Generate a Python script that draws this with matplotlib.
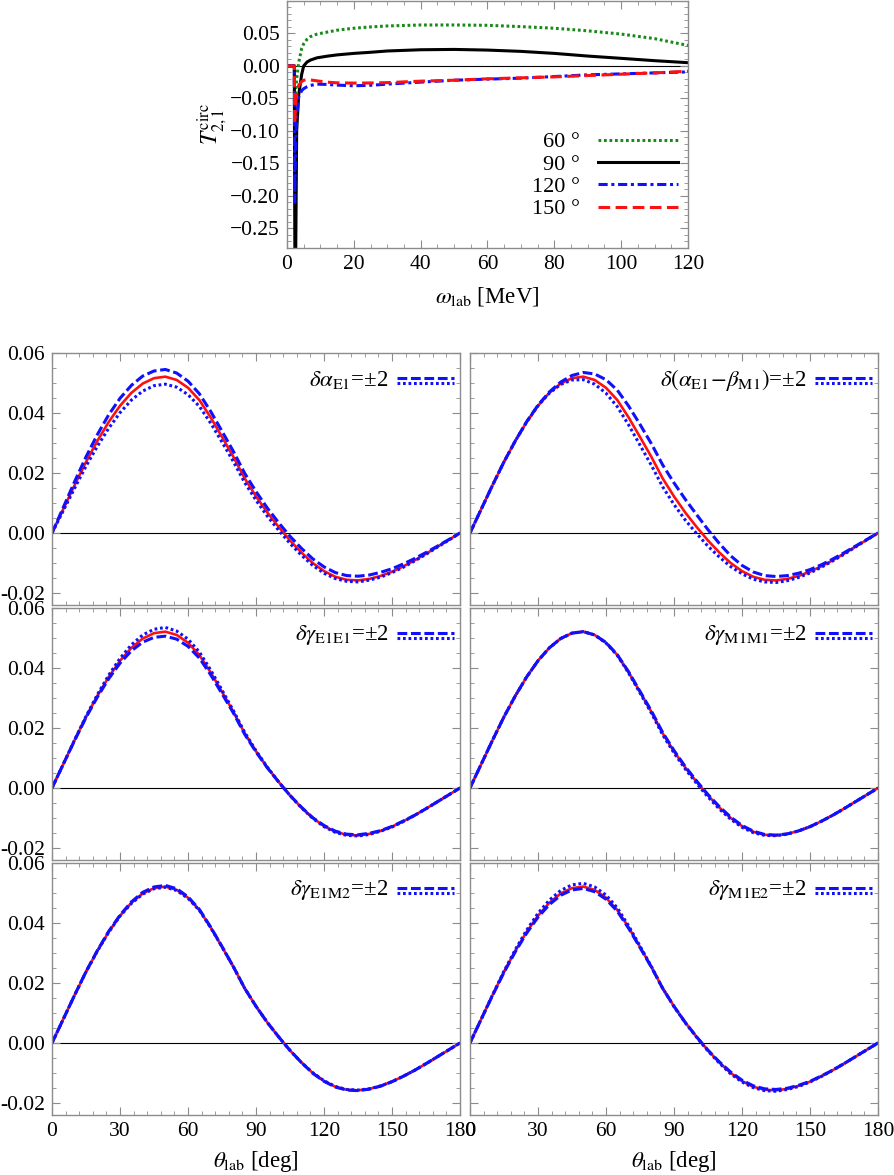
import matplotlib
matplotlib.use("Agg")
import matplotlib.pyplot as plt
from matplotlib.lines import Line2D
from matplotlib.ticker import MultipleLocator, FuncFormatter

plt.rcParams["font.family"] = ["Liberation Serif", "DejaVu Serif"]
plt.rcParams["mathtext.fontset"] = "stix"
plt.rcParams["font.size"] = 15

# ---- top panel: T_{2,1}^circ vs photon energy ----
omega = [0, 2.2, 2.3, 2.45, 2.6, 2.9, 3.5, 4.4, 5, 6, 7, 9, 12, 15, 20, 25,
         30, 40, 50, 60, 70, 80, 90, 100, 110, 120]
t60 = [0, 0, -0.03, -0.05, -0.04, -0.02, 0.005, 0.027, 0.034, 0.041, 0.045,
       0.049, 0.052, 0.055, 0.058, 0.060, 0.0615, 0.063, 0.063, 0.0625,
       0.0605, 0.058, 0.054, 0.049, 0.042, 0.0315]
t90 = [0, 0, -0.2, -0.4, -0.3, -0.10, -0.045, -0.013, 0.0, 0.006, 0.009,
       0.0125, 0.015, 0.017, 0.0193, 0.021, 0.023, 0.0249, 0.0254, 0.0244,
       0.0224, 0.0193, 0.0152, 0.0117, 0.0081, 0.005]
t120 = [0, 0, -0.21, -0.16, -0.12, -0.08, -0.048, -0.038, -0.035, -0.032,
        -0.030, -0.028, -0.0285, -0.0295, -0.0305, -0.0298, -0.028, -0.0249,
        -0.022, -0.0203, -0.0188, -0.0163, -0.0137, -0.0122, -0.0107, -0.0092]
t150 = [0, 0, -0.09, -0.07, -0.06, -0.045, -0.03, -0.024, -0.022, -0.021,
        -0.0215, -0.023, -0.025, -0.026, -0.0264, -0.0262, -0.0257, -0.0234,
        -0.022, -0.0198, -0.0183, -0.0168, -0.0148, -0.0127, -0.0107, -0.0081]
angle_labels = ["60 °", "90 °", "120 °", "150 °"]

# ---- lower panels: T_{2,1}^circ vs angle at fixed energy ----
theta = list(range(0, 181, 5))
base = [0, 0.0080, 0.0160, 0.0237, 0.0307, 0.0370, 0.0424, 0.0467, 0.0498,
        0.0516, 0.0521, 0.0510, 0.0484, 0.0443, 0.0385, 0.0320, 0.0254,
        0.0182, 0.0122, 0.0068, 0.0020, -0.0025, -0.0065, -0.0100, -0.0127,
        -0.0146, -0.0156, -0.0158, -0.0153, -0.0143, -0.0129, -0.0111,
        -0.0091, -0.0069, -0.0046, -0.0023, 0]

# shifts of the +2 (dashed) and -2 (dotted) curves relative to base
alpha_up = [0, 0.0006, 0.0012, 0.0017, 0.0021, 0.0024, 0.0025, 0.0025, 0.0025,
            0.0024, 0.0024, 0.0023, 0.0022, 0.0021, 0.0020, 0.0019, 0.0018,
            0.0017, 0.0016, 0.0015, 0.0014, 0.0014, 0.0014, 0.0014, 0.0014,
            0.0014, 0.0014, 0.0014, 0.0013, 0.0012, 0.0010, 0.0008, 0.0006,
            0.0004, 0.0002, 0.0001, 0]
alpha_dn = [0, -0.0005, -0.0010, -0.0014, -0.0018, -0.0021, -0.0023, -0.0024,
            -0.0025, -0.0025, -0.0025, -0.0024, -0.0023, -0.0021, -0.0019,
            -0.0017, -0.0016, -0.0014, -0.0013, -0.0012, -0.0011, -0.0010,
            -0.0009, -0.0008, -0.0007, -0.0006, -0.0005, -0.0005, -0.0004,
            -0.0004, -0.0003, -0.0003, -0.0002, -0.0002, -0.0001, -0.0001, 0]
amb_up = [0, 0, 0, 0, 0, 0.0001, 0.0002, 0.0003, 0.0005, 0.0009, 0.0014,
          0.0020, 0.0027, 0.0033, 0.0038, 0.0042, 0.0044, 0.0045, 0.0045,
          0.0044, 0.0041, 0.0036, 0.0030, 0.0024, 0.0019, 0.0016, 0.0014,
          0.0013, 0.0011, 0.0009, 0.0007, 0.0005, 0.0004, 0.0003, 0.0002,
          0.0001, 0]
amb_dn = [0, 0, 0, 0, 0, 0, 0, -0.0001, -0.0003, -0.0006, -0.0010, -0.0014,
          -0.0018, -0.0022, -0.0025, -0.0027, -0.0028, -0.0028, -0.0027,
          -0.0025, -0.0022, -0.0019, -0.0015, -0.0012, -0.0009, -0.0008,
          -0.0007, -0.0007, -0.0006, -0.0005, -0.0004, -0.0003, -0.0002,
          -0.0002, -0.0001, 0, 0]
e1e1_up = [0, 0, -0.0001, -0.0002, -0.0004, -0.0006, -0.0008, -0.0010,
           -0.0012, -0.0014, -0.0015, -0.0014, -0.0012, -0.0010, -0.0008,
           -0.0006, -0.0004, -0.0003, -0.0002, -0.0001, 0, 0, 0.0001, 0.0001,
           0.0002, 0.0002, 0.0002, 0.0002, 0.0002, 0.0001, 0.0001, 0.0001,
           0, 0, 0, 0, 0]
e1e1_dn = [0, 0, 0.0001, 0.0002, 0.0004, 0.0006, 0.0008, 0.0010, 0.0012,
           0.0013, 0.0014, 0.0013, 0.0012, 0.0010, 0.0008, 0.0006, 0.0004,
           0.0003, 0.0002, 0.0001, 0, 0, -0.0001, -0.0001, -0.0002, -0.0002,
           -0.0002, -0.0002, -0.0002, -0.0001, -0.0001, -0.0001, 0, 0, 0, 0, 0]
m1m1_up = [0, 0, 0, 0, 0, 0, 0, 0, 0, 0, 0, 0, 0.0001, 0.0001, 0.0002,
           0.0002, 0.0003, 0.0003, 0.0003, 0.0003, 0.0003, 0.0003, 0.0003,
           0.0003, 0.0002, 0.0002, 0.0001, 0.0001, 0, 0, 0, 0, 0, 0, 0, 0, 0]
m1m1_dn = [0, 0, 0, 0, 0, 0, 0, 0, 0, 0, 0, 0, -0.0001, -0.0001, -0.0002,
           -0.0003, -0.0004, -0.0005, -0.0005, -0.0005, -0.0005, -0.0005,
           -0.0005, -0.0004, -0.0004, -0.0003, -0.0002, -0.0001, -0.0001, 0,
           0, 0, 0, 0, 0, 0, 0]
e1m2_up = [0, 0, 0, 0.0001, 0.0001, 0.0002, 0.0002, 0.0003, 0.0004, 0.0004,
           0.0004, 0.0004, 0.0003, 0.0002, 0.0001, 0.0001, 0, 0, 0, 0, 0, 0,
           0, -0.0001, -0.0001, -0.0001, -0.0001, -0.0001, -0.0001, -0.0001,
           0, 0, 0, 0, 0, 0, 0]
e1m2_dn = [0, 0, 0, 0, -0.0001, -0.0001, -0.0001, -0.0002, -0.0002, -0.0002,
           -0.0002, -0.0002, -0.0002, -0.0001, -0.0001, 0, 0, 0, 0, 0, 0, 0,
           0, 0.0001, 0.0001, 0.0001, 0.0001, 0.0001, 0, 0, 0, 0, 0, 0, 0, 0, 0]
m1e2_up = [0, 0, -0.0001, -0.0002, -0.0003, -0.0004, -0.0005, -0.0006,
           -0.0006, -0.0006, -0.0006, -0.0006, -0.0005, -0.0004, -0.0003,
           -0.0002, -0.0001, 0, 0, 0, 0, 0.0001, 0.0002, 0.0003, 0.0003,
           0.0003, 0.0003, 0.0003, 0.0002, 0.0002, 0.0001, 0.0001, 0, 0, 0, 0, 0]
m1e2_dn = [0, 0, 0.0001, 0.0002, 0.0004, 0.0006, 0.0008, 0.0009, 0.0010,
           0.0011, 0.0011, 0.0010, 0.0009, 0.0007, 0.0005, 0.0003, 0.0001, 0,
           -0.0001, -0.0001, -0.0001, -0.0002, -0.0002, -0.0003, -0.0003,
           -0.0003, -0.0003, -0.0003, -0.0002, -0.0002, -0.0001, -0.0001, 0,
           0, 0, 0, 0]

panel_labels = [
    r"$\delta\alpha_{\rm E1}$=±2",
    r"$\delta(\alpha_{\rm E1}\!-\!\beta_{\rm M1})$=±2",
    r"$\delta\gamma_{\rm E1E1}$=±2",
    r"$\delta\gamma_{\rm M1M1}$=±2",
    r"$\delta\gamma_{\rm E1M2}$=±2",
    r"$\delta\gamma_{\rm M1E2}$=±2",
]
panel_shifts = [(alpha_up, alpha_dn), (amb_up, amb_dn), (e1e1_up, e1e1_dn),
                (m1m1_up, m1m1_dn), (e1m2_up, e1m2_dn), (m1e2_up, m1e2_dn)]

FRAME = "#8c8c8c"
BLUE = "#1010ff"
RED = "#ff1010"
DASH = (0, (3.2, 1.2))
DOT = (0, (0.9, 0.9))


def style_frame(ax):
    for sp in ax.spines.values():
        sp.set_color(FRAME)
        sp.set_linewidth(1.0)
    ax.tick_params(which="both", direction="in", top=True, right=True,
                   color=FRAME, labelsize=15.5, pad=5)
    ax.tick_params(which="major", length=6, width=0.8)
    ax.tick_params(which="minor", length=3, width=0.6)


def add_key(ax, label):
    ax.text(0.825, 0.893, label, transform=ax.transAxes, ha="right",
            va="center", fontsize=16.5)
    for y, ls in [(0.902, DASH), (0.880, DOT)]:
        ax.add_line(Line2D([0.846, 0.985], [y, y], transform=ax.transAxes,
                           color=BLUE, lw=2.2, linestyle=ls))


fig = plt.figure(figsize=(8.94, 11.75), dpi=100)

# top panel
ax0 = fig.add_axes([0.321, 0.789, 0.4486, 0.2102])
ax0.axhline(0, color="black", lw=0.8, zorder=1)
ax0.plot(omega, t60, color="#188a18", lw=2.2, linestyle=(0, (0.9, 0.9)),
         label=angle_labels[0])
ax0.plot(omega, t90, color="black", lw=2.2, label=angle_labels[1])
ax0.plot(omega, t120, color=BLUE, lw=2.2, linestyle=(0, (3, 1.2, 1, 1.2)),
         label=angle_labels[2])
ax0.plot(omega, t150, color=RED, lw=2.2, linestyle=(0, (3.8, 1.8)),
         label=angle_labels[3])
ax0.set_xlim(0, 120)
ax0.set_ylim(-0.28, 0.10)
ax0.set_yticks([-0.25, -0.20, -0.15, -0.10, -0.05, 0.0, 0.05])
ax0.xaxis.set_major_locator(MultipleLocator(20))
ax0.xaxis.set_minor_locator(MultipleLocator(5))
ax0.yaxis.set_minor_locator(MultipleLocator(0.01))
ax0.yaxis.set_major_formatter(
    FuncFormatter(lambda v, p: f"{v:.2f}".replace("-", "\u2212")))
style_frame(ax0)
ax0.set_xlabel(r"$\omega_{\rm lab}$ [MeV]", fontsize=16.5, labelpad=8)
ax0.set_ylabel(r"$T_{2,1}^{\rm circ}$", fontsize=17, labelpad=0)
ax0.legend(loc="lower right", bbox_to_anchor=(1.025, 0.035), frameon=False,
           markerfirst=False, handlelength=3.6, labelspacing=0.08,
           fontsize=16, handletextpad=0.8)

# 3x2 grid
lefts = [0.0582, 0.5257]
bottoms = [0.4851, 0.2681, 0.0511]
for i, (label, (up, dn)) in enumerate(zip(panel_labels, panel_shifts)):
    row, col = divmod(i, 2)
    ax = fig.add_axes([lefts[col], bottoms[row], 0.4564, 0.2145])
    ax.axhline(0, color="black", lw=0.8, zorder=1)
    ax.plot(theta, base, color=RED, lw=1.9)
    ax.plot(theta, [b + d for b, d in zip(base, up)], color=BLUE, lw=2.2,
            linestyle=DASH)
    ax.plot(theta, [b + d for b, d in zip(base, dn)], color=BLUE, lw=2.2,
            linestyle=DOT)
    ax.set_xlim(0, 180)
    ax.set_ylim(-0.024, 0.06)
    ax.xaxis.set_major_locator(MultipleLocator(30))
    ax.xaxis.set_minor_locator(MultipleLocator(6))
    ax.yaxis.set_major_locator(MultipleLocator(0.02))
    ax.yaxis.set_minor_locator(MultipleLocator(0.005))
    ax.yaxis.set_major_formatter(FuncFormatter(lambda v, p: f"{v:.2f}"))
    style_frame(ax)
    if col == 1:
        ax.tick_params(labelleft=False)
    if row < 2:
        ax.tick_params(labelbottom=False)
    else:
        ax.set_xlabel(r"$\theta_{\rm lab}$ [deg]", fontsize=16.5, labelpad=6)
    add_key(ax, label)

fig.savefig("out.png", dpi=100)
